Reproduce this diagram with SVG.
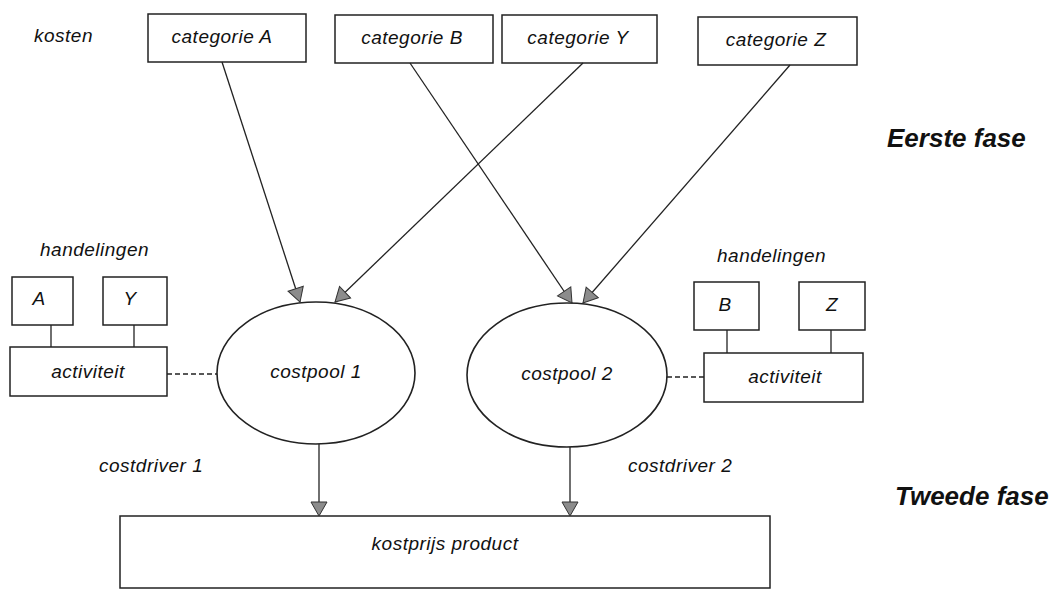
<svg xmlns="http://www.w3.org/2000/svg" width="1052" height="589" viewBox="0 0 1052 589">
<style>
.box{fill:#fff;stroke:#222;stroke-width:1.5}
.ell{fill:#fff;stroke:#222;stroke-width:1.6}
.ln{stroke:#222;stroke-width:1.3;fill:none}
.dash{stroke:#222;stroke-width:1.5;stroke-dasharray:5,3;fill:none}
.t{font-family:"Liberation Sans",Arial,sans-serif;font-style:italic;font-size:19px;letter-spacing:0.5px;fill:#111}
.m{text-anchor:middle}
.h{font-family:"Liberation Sans",Arial,sans-serif;font-style:italic;font-weight:bold;font-size:26px;fill:#111}
</style>
<defs>
<marker id="ah" markerUnits="userSpaceOnUse" markerWidth="20" markerHeight="20" refX="15" refY="9" orient="auto">
<path d="M1,1 L15,9 L1,17 Z" fill="#8c8c8c" stroke="#333" stroke-width="1"/>
</marker>
</defs>
<rect width="1052" height="589" fill="#fff"/>
<text class="t" x="34" y="42">kosten</text>
<g id="catA"><rect class="box" x="148" y="14" width="158" height="48"/><text class="t m" x="222" y="43">categorie A</text></g>
<g id="catB"><rect class="box" x="335" y="15" width="158" height="48"/><text class="t m" x="412" y="44">categorie B</text></g>
<g id="catY"><rect class="box" x="502" y="15" width="155" height="48"/><text class="t m" x="578" y="44">categorie Y</text></g>
<g id="catZ"><rect class="box" x="698" y="17" width="159" height="48"/><text class="t m" x="776" y="46">categorie Z</text></g>
<text class="h" x="887" y="147">Eerste fase</text>
<text class="h" x="895" y="505">Tweede fase</text>
<text class="t" x="40" y="256">handelingen</text>
<text class="t" x="717" y="262">handelingen</text>
<g id="hA"><rect class="box" x="12" y="277" width="61" height="48"/><text class="t m" x="39" y="305">A</text></g>
<g id="hY"><rect class="box" x="103" y="277" width="64" height="48"/><text class="t m" x="130" y="305">Y</text></g>
<g id="act1"><rect class="box" x="10" y="347" width="157" height="49"/><text class="t m" x="88" y="378">activiteit</text></g>
<g id="hB"><rect class="box" x="694" y="282" width="65" height="48"/><text class="t m" x="725" y="311">B</text></g>
<g id="hZ"><rect class="box" x="799" y="282" width="66" height="48"/><text class="t m" x="832" y="311">Z</text></g>
<g id="act2"><rect class="box" x="704" y="353" width="159" height="49"/><text class="t m" x="785" y="383">activiteit</text></g>
<g id="pool1"><ellipse class="ell" cx="316" cy="373" rx="99" ry="71"/><text class="t m" x="316" y="378">costpool 1</text></g>
<g id="pool2"><ellipse class="ell" cx="567" cy="375" rx="100" ry="72"/><text class="t m" x="567" y="380">costpool 2</text></g>
<g id="product"><rect class="box" x="120" y="516" width="650" height="72"/><text class="t m" x="445" y="550">kostprijs product</text></g>
<text class="t" x="99" y="472">costdriver 1</text>
<text class="t" x="628" y="472">costdriver 2</text>
<g id="connectors">
<line class="ln" x1="222" y1="62" x2="300" y2="302" marker-end="url(#ah)"/>
<line class="ln" x1="583" y1="63" x2="335" y2="302" marker-end="url(#ah)"/>
<line class="ln" x1="410" y1="63" x2="572" y2="303" marker-end="url(#ah)"/>
<line class="ln" x1="790" y1="65" x2="583" y2="303" marker-end="url(#ah)"/>
<line class="ln" x1="319" y1="444" x2="319" y2="516" marker-end="url(#ah)"/>
<line class="ln" x1="570" y1="447" x2="570" y2="516" marker-end="url(#ah)"/>
<line class="ln" x1="51" y1="325" x2="51" y2="347"/>
<line class="ln" x1="134" y1="325" x2="134" y2="347"/>
<line class="ln" x1="727" y1="330" x2="727" y2="353"/>
<line class="ln" x1="831" y1="330" x2="831" y2="353"/>
<line class="dash" x1="167" y1="374" x2="217" y2="374"/>
<line class="dash" x1="667" y1="377" x2="704" y2="377"/>
</g>
</svg>
